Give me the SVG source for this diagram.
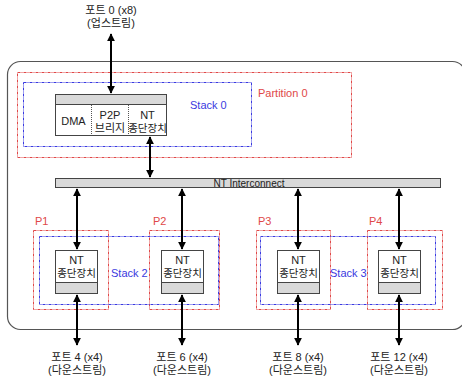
<svg xmlns="http://www.w3.org/2000/svg" width="462" height="381" viewBox="0 0 462 381">
  <defs>
    <marker id="ah" viewBox="0 0 10 10" refX="9" refY="5" markerWidth="4" markerHeight="4" orient="auto-start-reverse">
      <path d="M0,0 L10,5 L0,10 z" fill="#000"/>
    </marker>
    <style>
      text { font-family: "Liberation Sans", "Noto Sans CJK KR", sans-serif; font-size: 11px; fill: #222; text-anchor: middle; }
      .red { fill: none; stroke: #e04848; stroke-width: 1; stroke-dasharray: 3 1 1 1; }
      .blue { fill: none; stroke: #3a3ae0; stroke-width: 1; stroke-dasharray: 3 1 1 1; }
      .box { fill: #fff; stroke: #444; stroke-width: 1; }
      .hdr { fill: #d9d9d9; stroke: #444; stroke-width: 1; }
      .div { stroke: #555; stroke-width: 1; stroke-dasharray: 1 1; }
      .conn { stroke: #000; stroke-width: 2; fill: none; marker-start: url(#ah); marker-end: url(#ah); }
      .rl { fill: #e04848; text-anchor: start; }
      .bl { fill: #3a3ae0; text-anchor: start; }
    </style>
  </defs>

  <!-- enclosure -->
  <rect x="7.5" y="61.5" width="458" height="268" rx="13" fill="none" stroke="#555" stroke-width="1.2"/>

  <!-- partitions and stacks -->
  <g id="partition0">
    <rect class="red" x="17.5" y="72.5" width="334" height="85"/>
    <text class="rl" x="258" y="97">Partition 0</text>
  </g>
  <g id="stack0">
    <rect class="blue" x="23.5" y="82.5" width="228" height="64"/>
    <text class="bl" x="190" y="109">Stack 0</text>
  </g>
  <g id="p1">
    <rect class="red" x="33.5" y="230.5" width="75" height="79"/>
    <text class="rl" x="35" y="225">P1</text>
  </g>
  <g id="p2">
    <rect class="red" x="149.5" y="230.5" width="70" height="79"/>
    <text class="rl" x="153" y="225">P2</text>
  </g>
  <g id="p3">
    <rect class="red" x="256.5" y="230.5" width="74" height="79"/>
    <text class="rl" x="258" y="225">P3</text>
  </g>
  <g id="p4">
    <rect class="red" x="367.5" y="230.5" width="75" height="79"/>
    <text class="rl" x="369" y="225">P4</text>
  </g>
  <g id="stack2">
    <rect class="blue" x="39.5" y="236.5" width="179" height="68"/>
    <text class="bl" x="111" y="277">Stack 2</text>
  </g>
  <g id="stack3">
    <rect class="blue" x="260.5" y="236.5" width="175" height="68"/>
    <text class="bl" x="330" y="277">Stack 3</text>
  </g>

  <!-- upstream block -->
  <g id="upstream-block">
    <rect class="box" x="55.5" y="94.5" width="111" height="41"/>
    <rect class="hdr" x="55.5" y="94.5" width="111" height="10"/>
    <line class="div" x1="91.5" y1="105" x2="91.5" y2="135"/>
    <line class="div" x1="128.5" y1="105" x2="128.5" y2="135"/>
    <text x="73.5" y="125">DMA</text>
    <text x="110" y="119">P2P</text>
    <text x="110" y="132">브리지</text>
    <text x="147.5" y="119">NT</text>
    <text x="147.5" y="132" style="font-size:10.5px">종단장치</text>
  </g>

  <!-- interconnect -->
  <g id="interconnect">
    <rect class="hdr" x="55.5" y="178.5" width="385" height="9"/>
    <text x="249" y="187" style="font-size:10px">NT Interconnect</text>
  </g>

  <!-- downstream endpoints -->
  <g id="nt1">
    <rect class="box" x="55.5" y="250.5" width="42" height="43"/>
    <rect class="hdr" x="55.5" y="282.5" width="42" height="11"/>
    <text x="76.5" y="264">NT</text>
    <text x="76.5" y="277" style="font-size:10.5px">종단장치</text>
  </g>
  <g id="nt2">
    <rect class="box" x="161.5" y="250.5" width="42" height="43"/>
    <rect class="hdr" x="161.5" y="282.5" width="42" height="11"/>
    <text x="182.5" y="264">NT</text>
    <text x="182.5" y="277" style="font-size:10.5px">종단장치</text>
  </g>
  <g id="nt3">
    <rect class="box" x="277.5" y="250.5" width="42" height="43"/>
    <rect class="hdr" x="277.5" y="282.5" width="42" height="11"/>
    <text x="298.5" y="264">NT</text>
    <text x="298.5" y="277" style="font-size:10.5px">종단장치</text>
  </g>
  <g id="nt4">
    <rect class="box" x="378.5" y="250.5" width="42" height="43"/>
    <rect class="hdr" x="378.5" y="282.5" width="42" height="11"/>
    <text x="399.5" y="264">NT</text>
    <text x="399.5" y="277" style="font-size:10.5px">종단장치</text>
  </g>

  <!-- port labels -->
  <g id="port0">
    <text x="111" y="14">포트 0 (x8)</text>
    <text x="111" y="27">(업스트림)</text>
  </g>
  <g id="port4">
    <text x="77" y="361">포트 4 (x4)</text>
    <text x="77" y="374">(다운스트림)</text>
  </g>
  <g id="port6">
    <text x="182" y="361">포트 6 (x4)</text>
    <text x="182" y="374">(다운스트림)</text>
  </g>
  <g id="port8">
    <text x="298" y="361">포트 8 (x4)</text>
    <text x="298" y="374">(다운스트림)</text>
  </g>
  <g id="port12">
    <text x="399" y="361">포트 12 (x4)</text>
    <text x="399" y="374">(다운스트림)</text>
  </g>

  <!-- connectors -->
  <g id="connectors">
    <line class="conn" x1="111" y1="34" x2="111" y2="93"/>
    <line class="conn" x1="150" y1="137" x2="150" y2="177"/>
    <line class="conn" x1="77" y1="189" x2="77" y2="249"/>
    <line class="conn" x1="182" y1="189" x2="182" y2="249"/>
    <line class="conn" x1="298" y1="189" x2="298" y2="249"/>
    <line class="conn" x1="399" y1="189" x2="399" y2="249"/>
    <line class="conn" x1="77" y1="295" x2="77" y2="345"/>
    <line class="conn" x1="182" y1="295" x2="182" y2="345"/>
    <line class="conn" x1="298" y1="295" x2="298" y2="345"/>
    <line class="conn" x1="399" y1="295" x2="399" y2="345"/>
  </g>
</svg>
